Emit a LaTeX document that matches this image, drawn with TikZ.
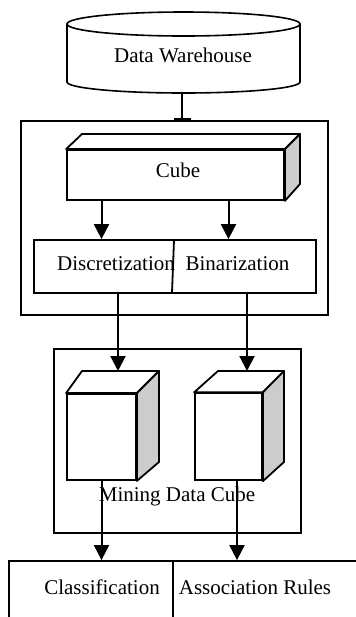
\documentclass[tikz,border=0pt]{standalone}
\usepackage{fontspec}
\setmainfont{Liberation Serif}
\usepackage{tikz}
\usetikzlibrary{arrows.meta}

\tikzset{
	box/.style={draw=black, line width=0.9pt, inner sep=0pt},
	topface/.style={draw=black, line width=0.9pt, fill=white, line join=round},
	sideface/.style={draw=black, line width=0.9pt, fill=gray!40, line join=round},
	arr/.style={draw=black, line width=1pt, -{Triangle[length=7.5pt, width=7.5pt]}},
	lbl/.style={font=\fontsize{10.5}{12.6}\selectfont, inner sep=0pt}
}

\begin{document}
\begin{tikzpicture}[x=0.5pt, y=-0.5pt]
	\path[use as bounding box, clip] (0,0) rectangle (356,617);

	% warehouse
	\draw[draw=black, line width=0.8pt] (67,24) -- (67,82) arc[start angle=180, end angle=0, x radius=116.5, y radius=11] -- (300,24);
	\draw[draw=black, line width=0.8pt] (183.5,24) ellipse[x radius=116.5, y radius=12];
	\node[lbl] (dw) at (183,55) {Data Warehouse};
	\coordinate (dwbot) at (182,93);

	% first frame
	\node[box, minimum width=153.5pt, minimum height=97pt] (frame1) at (174.5,218) {};
	\node[box, minimum width=108.5pt, minimum height=25pt] (cubebar) at (175.5,175) {};
	\draw[topface] (cubebar.north west) -- (82,134) -- (300,134) -- (cubebar.north east) -- cycle;
	\draw[sideface] (cubebar.north east) -- (300,134) -- (300,184) -- (cubebar.south east) -- cycle;
	\node[lbl] (cubetxt) at (178,170) {Cube};

	\node[box, minimum width=141pt, minimum height=26.5pt] (discbox) at (175,266.5) {};
	\draw[draw=black, line width=0.9pt] (174,240) -- (172,293);
	\node[lbl] (disctxt) at (116,264) {Discretization};
	\node[lbl] (bintxt) at (237.5,264) {Binarization};

	% second frame
	\node[box, minimum width=123.5pt, minimum height=92pt] (frame2) at (177.5,441) {};
	\node[box, minimum width=34.5pt, minimum height=43pt] (cube1) at (101.5,437) {};
	\draw[topface] (cube1.north west) -- (82,371) -- (159,371) -- (cube1.north east) -- cycle;
	\draw[sideface] (cube1.north east) -- (159,371) -- (159,462) -- (cube1.south east) -- cycle;
	\node[box, minimum width=33.5pt, minimum height=43.5pt] (cube2) at (228.5,436.75) {};
	\draw[topface] (cube2.north west) -- (218,371) -- (284,371) -- (cube2.north east) -- cycle;
	\draw[sideface] (cube2.north east) -- (284,371) -- (284,462) -- (cube2.south east) -- cycle;
	\node[lbl] (minetxt) at (177,496) {Mining Data Cube};

	% results
	\node[box, minimum width=82pt, minimum height=40pt] (classbox) at (91,601) {};
	\node[box, minimum width=108.5pt, minimum height=40pt] (assocbox) at (281.5,601) {};
	\node[lbl] (classtxt) at (102,587) {Classification};
	\node[lbl] (assoctxt) at (255,587) {Association Rules};

	% connectors
	\coordinate (c1in) at (118,371);
	\coordinate (c2in) at (247,371);
	\coordinate (c2out) at (237,480);
	\draw[draw=black, line width=0.7pt, -{Bar[width=8.5pt, line width=1.1pt]}] (dwbot) -- (dwbot |- frame1.north);
	\draw[arr] (cube1 |- cubebar.south) -- (cube1 |- discbox.north);
	\draw[arr] (cube2 |- cubebar.south) -- (cube2 |- discbox.north);
	\draw[arr] (c1in |- discbox.south) -- (c1in);
	\draw[arr] (c2in |- discbox.south) -- (c2in);
	\draw[arr] (cube1.south) -- (cube1.south |- classbox.north);
	\draw[arr] (c2out) -- (c2out |- classbox.north);
\end{tikzpicture}
\end{document}
